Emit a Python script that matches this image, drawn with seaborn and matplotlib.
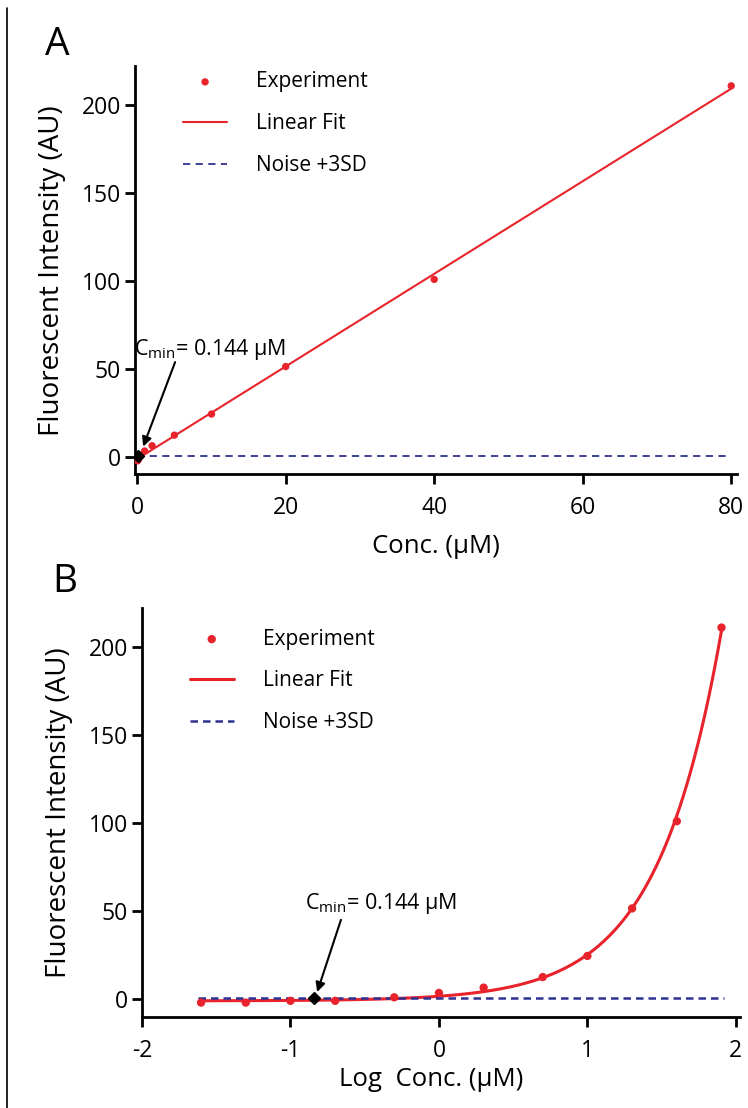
import numpy as np
import pandas as pd
import matplotlib
matplotlib.use("Agg")
import matplotlib.pyplot as plt
from matplotlib.lines import Line2D
import seaborn as sns

# ---------------- data ----------------
conc_uM = [0.025, 0.05, 0.1, 0.2, 0.5, 1, 2, 5, 10, 20, 40, 80]
intensity_AU = [-2, -2, -1, -1, 1, 3.5, 6.5, 12.5, 24.5, 51.5, 101, 211]
noise_level = 0.4          # Noise + 3SD
cmin_uM = 0.144            # detection limit
legend_labels = ["Experiment", "Linear Fit", "Noise +3SD"]
panel_labels = ["A", "B"]
xticks_A = [0, 20, 40, 60, 80]
xticks_B = [-2, -1, 0, 1, 2]
yticks = [0, 50, 100, 150, 200]

RED = "#e8232b"
NAVY = "#2e3192"

sns.set_style("ticks")
plt.rcParams["font.family"] = ["Open Sans", "DejaVu Sans"]
plt.rcParams["mathtext.fontset"] = "custom"
plt.rcParams["mathtext.rm"] = "Open Sans"
plt.rcParams["mathtext.it"] = "Open Sans"
plt.rcParams["axes.unicode_minus"] = False
for k in ["text.color", "axes.labelcolor", "xtick.color", "ytick.color", "axes.edgecolor"]:
    plt.rcParams[k] = "black"

df = pd.DataFrame({"conc": conc_uM, "inten": intensity_AU})
df["logc"] = np.log10(df["conc"])

slope, intercept = np.polyfit(df["conc"], df["inten"], 1)

fig = plt.figure(figsize=(7.48, 11.08), dpi=100)
axA = fig.add_axes([0.1805, 0.572, 0.805, 0.368])
axB = fig.add_axes([0.1898, 0.0821, 0.800, 0.369])

cmin_label = "C$_{\\mathrm{min}}$= 0.144 µM"

# ---------- Panel A ----------
fitA = pd.DataFrame({"x": np.linspace(0, max(conc_uM), 200)})
fitA["y"] = slope * fitA["x"] + intercept
sns.lineplot(data=fitA, x="x", y="y", ax=axA, color=RED, lw=1.5, label=legend_labels[1])
noiseA = pd.DataFrame({"x": [0, max(conc_uM)], "y": [noise_level, noise_level]})
sns.lineplot(data=noiseA, x="x", y="y", ax=axA, color=NAVY, lw=1.3,
             linestyle=(0, (4, 3)), label=legend_labels[2])
sns.scatterplot(data=df, x="conc", y="inten", ax=axA, color=RED, s=28,
                edgecolor="none", label=legend_labels[0], zorder=4)
axA.plot([cmin_uM], [noise_level], marker="D", color="black", ms=6, zorder=5)
axA.annotate("", xy=(0.8, 6), xytext=(5.1, 54),
             arrowprops=dict(arrowstyle="-|>", color="black", lw=1.5,
                             mutation_scale=14, shrinkA=0, shrinkB=0))
axA.text(-0.5, 61, cmin_label, fontsize=15.5, ha="left", va="center")
axA.set_xlim(-0.3, 80.8)
axA.set_ylim(-9.7, 222)
axA.set_xticks(xticks_A)
axA.set_xlabel("Conc. (µM)", fontsize=18.5, labelpad=10)

# ---------- Panel B ----------
fitB = pd.DataFrame({"logc": np.linspace(df["logc"].min(), df["logc"].max(), 300)})
fitB["y"] = slope * 10 ** fitB["logc"] + intercept
sns.lineplot(data=fitB, x="logc", y="y", ax=axB, color=RED, lw=2.2, label=legend_labels[1])
noiseB = pd.DataFrame({"x": [df["logc"].min() - 0.02, df["logc"].max() + 0.02],
                       "y": [noise_level, noise_level]})
sns.lineplot(data=noiseB, x="x", y="y", ax=axB, color=NAVY, lw=1.8,
             linestyle=(0, (3, 2)), label=legend_labels[2])
sns.scatterplot(data=df, x="logc", y="inten", ax=axB, color=RED, s=36,
                edgecolor="none", label=legend_labels[0], zorder=4)
axB.plot([np.log10(cmin_uM)], [noise_level], marker="D", color="black", ms=6, zorder=5)
axB.annotate("", xy=(-0.82, 4), xytext=(-0.66, 45),
             arrowprops=dict(arrowstyle="-|>", color="black", lw=1.5,
                             mutation_scale=14, shrinkA=0, shrinkB=0))
axB.text(-0.39, 54.5, cmin_label, fontsize=15.5, ha="center", va="center")
axB.set_xlim(-2, 2.03)
axB.set_ylim(-10.2, 222)
axB.set_xticks(xticks_B)
axB.set_xlabel("Log  Conc. (µM)", fontsize=18.5)
axB.xaxis.set_label_coords(0.483, -0.122)

for ax, lab, leg_y, lab_y in [(axA, panel_labels[0], 0.988, 1.005),
                              (axB, panel_labels[1], 0.95, 1.018)]:
    ax.set_yticks(yticks)
    ax.set_ylabel("Fluorescent Intensity (AU)", fontsize=20, labelpad=11)
    sns.despine(ax=ax)
    for s in ["left", "bottom"]:
        ax.spines[s].set_linewidth(2)
    ax.tick_params(axis="both", labelsize=16.5, width=2, length=7, direction="out")
    ax.tick_params(axis="x", pad=9)
    ax.tick_params(axis="y", pad=3)
    h, l = ax.get_legend_handles_labels()
    order = [l.index(t) for t in legend_labels]
    ax.legend([h[i] for i in order], [l[i] for i in order], loc="upper left",
              bbox_to_anchor=(0.08, leg_y), frameon=False, fontsize=15,
              handlelength=2.1, handletextpad=1.4, labelspacing=1.0,
              borderpad=0, borderaxespad=0)
    ax.text(-0.15, lab_y, lab, transform=ax.transAxes, fontsize=28,
            ha="left", va="bottom")

fig.add_artist(Line2D([7 / 748, 7 / 748], [0, 1 - 8 / 1108], color="black", lw=1.2))

fig.savefig("out.png", dpi=100)
